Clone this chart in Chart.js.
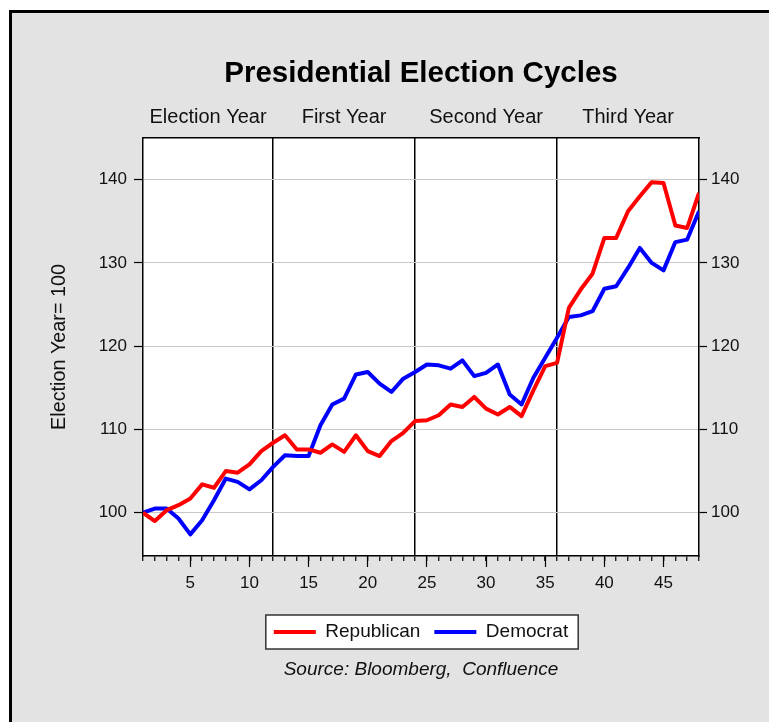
<!DOCTYPE html>
<html>
<head>
<meta charset="utf-8">
<title>Presidential Election Cycles</title>
<script src="https://cdn.jsdelivr.net/npm/chart.js@4.4.1/dist/chart.umd.min.js"></script>
<style>
  html, body { margin: 0; padding: 0; background: #fff; }
  canvas { display: block; }
</style>
</head>
<body>
<canvas id="myChart" width="769" height="722"></canvas>
<script>
// months since the election (x axis)
const months = [
  1, 2, 3, 4, 5, 6, 7, 8, 9, 10, 11, 12,
  13, 14, 15, 16, 17, 18, 19, 20, 21, 22, 23, 24,
  25, 26, 27, 28, 29, 30, 31, 32, 33, 34, 35, 36,
  37, 38, 39, 40, 41, 42, 43, 44, 45, 46, 47, 48,
];
const republican = [
  100.0, 99.0, 100.3, 100.9, 101.7, 103.4, 103.0, 105.0, 104.8, 105.8, 107.4, 108.4,
  109.3, 107.6, 107.6, 107.2, 108.2, 107.3, 109.3, 107.4, 106.8, 108.6, 109.6, 111.0,
  111.1, 111.7, 113.0, 112.7, 113.9, 112.5, 111.8, 112.7, 111.6, 114.7, 117.6, 118.0,
  124.6, 126.8, 128.7, 133.0, 133.0, 136.2, 138.0, 139.7, 139.6, 134.5, 134.2, 138.4,
];
const democrat = [
  100.0, 100.5, 100.5, 99.3, 97.4, 99.1, 101.5, 104.1, 103.7, 102.8, 103.9, 105.5,
  106.9, 106.8, 106.8, 110.5, 113.0, 113.7, 116.6, 116.9, 115.5, 114.5, 116.1, 116.9,
  117.8, 117.7, 117.3, 118.3, 116.4, 116.8, 117.8, 114.2, 113.0, 116.2, 118.6, 121.0,
  123.5, 123.7, 124.2, 126.9, 127.2, 129.4, 131.8, 130.0, 129.1, 132.5, 132.8, 136.2,
];
const sectionLabels = ['Election Year', 'First Year', 'Second Year', 'Third Year'];
const sectionBreaks = [1, 12, 24, 36, 48];
const xTicks = [5, 10, 15, 20, 25, 30, 35, 40, 45];
const yTicks = [100, 110, 120, 130, 140];

const FONT = "'Liberation Sans', Arial, sans-serif";
const toPoints = vals => months.map((m, i) => ({x: m, y: vals[i]}));
const innerBreaks = sectionBreaks.slice(1, -1);

// grey page, frame, white plot and the boxed legend
const pageBackground = {
  id: 'pageBackground',
  beforeDraw(chart) {
    const {ctx, width, height, chartArea} = chart;
    ctx.save();
    ctx.fillStyle = '#fff';
    ctx.fillRect(0, 0, width, height);
    ctx.fillStyle = '#e3e3e3';
    ctx.fillRect(9, 10, width - 9, height - 10);
    ctx.fillStyle = '#000';
    ctx.fillRect(9, 10, width - 9, 3);
    ctx.fillRect(9, 10, 3, height - 10);
    ctx.fillStyle = '#fff';
    ctx.fillRect(chartArea.left, chartArea.top, chartArea.right - chartArea.left, chartArea.bottom - chartArea.top);
    const boxes = chart.legend && chart.legend.legendHitBoxes;
    if (boxes && boxes.length) {
      const first = boxes[0], last = boxes[boxes.length - 1];
      const cy = first.top + first.height / 2;
      const x0 = first.left - 8, x1 = last.left + last.width + 10;
      ctx.fillRect(x0, cy - 17, x1 - x0, 34);
      ctx.strokeStyle = '#333';
      ctx.lineWidth = 1.5;
      ctx.strokeRect(x0, cy - 17, x1 - x0, 34);
    }
    ctx.restore();
  }
};

const data = {
  datasets: [{
    label: 'Republican',
    data: toPoints(republican),
    borderColor: '#ff0000',
    backgroundColor: '#ff0000',
    borderWidth: 4,
    pointRadius: 0,
    borderJoinStyle: 'round',
    xAxisID: 'x',
    yAxisID: 'y',
  }, {
    label: 'Democrat',
    data: toPoints(democrat),
    borderColor: '#0000ff',
    backgroundColor: '#0000ff',
    borderWidth: 4,
    pointRadius: 0,
    borderJoinStyle: 'round',
    xAxisID: 'x',
    yAxisID: 'y',
  }]
};

const tickFont = {family: FONT, size: 17};

const config = {
  type: 'line',
  data,
  options: {
    responsive: false,
    animation: false,
    layout: {padding: 0},
    plugins: {
      title: {
        display: true,
        text: 'Presidential Election Cycles',
        fullSize: false,
        color: '#000',
        font: {family: FONT, size: 29.5, weight: 'bold'},
        padding: {top: 56.3, bottom: 0},
      },
      subtitle: {
        display: true,
        position: 'bottom',
        fullSize: false,
        text: 'Source: Bloomberg,  Confluence',
        color: '#111',
        font: {family: FONT, size: 19, style: 'italic'},
        padding: {top: 7.1, bottom: 40.6},
      },
      legend: {
        position: 'bottom',
        fullSize: false,
        labels: {
          usePointStyle: true,
          pointStyle: 'line',
          pointStyleWidth: 42,
          color: '#111',
          font: {family: FONT, size: 19},
          padding: 14,
        },
      },
      tooltip: {enabled: false},
    },
    scales: {
      x: {
        type: 'linear', position: 'bottom', min: 1, max: 48,
        afterBuildTicks: s => { s.ticks = months.map(v => ({value: v})); },
        afterFit: s => { s.height = 0; },
        ticks: {display: false},
        grid: {
          color: c => (c.tick && innerBreaks.includes(c.tick.value)) ? '#000' : 'rgba(0,0,0,0)',
          lineWidth: 1.5,
          tickLength: 5,
          tickColor: '#000',
          tickWidth: 1.2,
        },
        border: {color: '#000', width: 1.5},
      },
      xMajor: {
        type: 'linear', position: 'bottom', min: 1, max: 48,
        afterBuildTicks: s => { s.ticks = xTicks.map(v => ({value: v})); },
        afterFit: s => { s.height = 52.5; },
        ticks: {font: tickFont, color: '#111', padding: 6, maxRotation: 0, autoSkip: false},
        grid: {drawOnChartArea: false, tickLength: 11, tickColor: '#000', tickWidth: 1.2},
        border: {display: false},
      },
      x2: {
        type: 'linear', position: 'top', min: 1, max: 48,
        afterBuildTicks: s => {
          s.ticks = sectionLabels.map((_, i) => ({value: (sectionBreaks[i] + sectionBreaks[i + 1]) / 2}));
        },
        afterFit: s => { s.height = 46.3; },
        ticks: {
          font: {family: FONT, size: 20}, color: '#111', padding: 8.2,
          maxRotation: 0, autoSkip: false,
          callback: (v, i) => sectionLabels[i],
        },
        grid: {display: false, drawTicks: false},
        border: {display: true, color: '#000', width: 1.5},
      },
      y: {
        type: 'linear', position: 'left', min: 94.8, max: 145,
        afterBuildTicks: s => { s.ticks = yTicks.map(v => ({value: v})); },
        afterFit: s => { s.width = 143; },
        title: {
          display: true, text: 'Election Year= 100', color: '#111',
          font: {family: FONT, size: 19.8}, padding: {top: 48.1, bottom: 0},
        },
        ticks: {font: tickFont, color: '#111', padding: 7},
        grid: {color: '#c8c8c8', lineWidth: 1, tickLength: 9, tickColor: '#000', tickWidth: 1.2},
        border: {color: '#000', width: 1.5},
      },
      y2: {
        type: 'linear', position: 'right', min: 94.8, max: 145,
        afterBuildTicks: s => { s.ticks = yTicks.map(v => ({value: v})); },
        afterFit: s => { s.width = 70; },
        ticks: {font: tickFont, color: '#111', padding: 4},
        grid: {drawOnChartArea: false, tickLength: 8, tickColor: '#000', tickWidth: 1.2},
        border: {color: '#000', width: 1.5},
      },
    },
  },
  plugins: [pageBackground],
};

const myChart = new Chart(document.getElementById('myChart'), config);
</script>
</body>
</html>
